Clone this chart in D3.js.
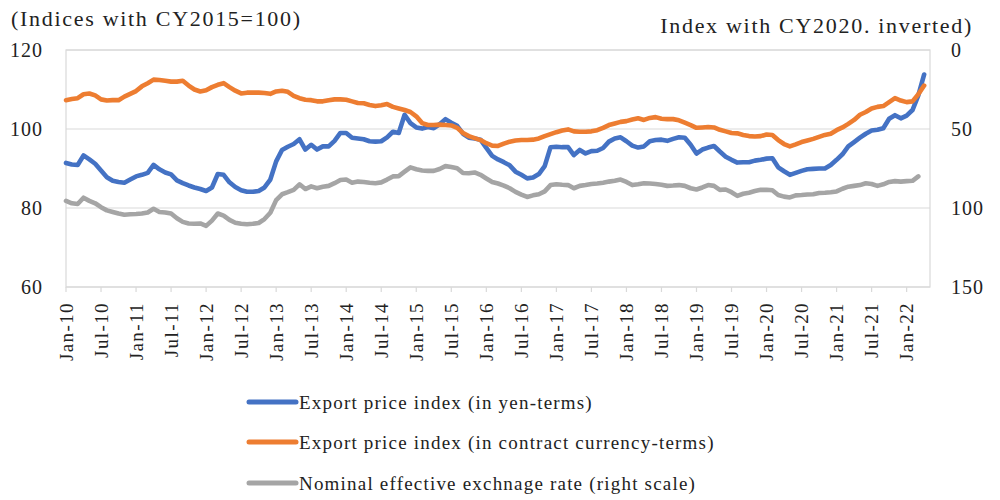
<!DOCTYPE html>
<html><head><meta charset="utf-8">
<script src="https://cdn.jsdelivr.net/npm/d3@7"></script>
<style>
body{margin:0;background:#fff}
text{font-family:"Liberation Serif","Times New Roman",serif;fill:#222}
</style>
</head><body><svg id="c" width="1000" height="500"></svg>
<script>
// Monthly, Jan-2010 onward
const yenTerms=[91.4,91.0,90.9,93.3,92.3,91.2,89.5,87.8,86.9,86.6,86.4,87.2,88.0,88.4,88.9,90.9,89.8,89.0,88.5,87.0,86.3,85.7,85.2,84.8,84.3,85.2,88.6,88.4,86.5,85.3,84.5,84.1,84.1,84.3,85.2,87.2,91.8,94.7,95.5,96.2,97.4,94.8,96.0,94.8,95.6,95.6,97.0,99.0,99.0,97.8,97.6,97.4,96.9,96.8,96.9,97.9,99.3,99.0,103.6,101.5,100.4,100.1,100.5,100.2,101.2,102.5,101.6,100.8,98.8,97.8,97.6,97.3,95.2,93.2,92.3,91.6,90.8,89.2,88.4,87.5,87.7,88.6,90.6,95.4,95.5,95.4,95.4,93.4,94.7,93.8,94.4,94.5,95.2,96.8,97.6,97.9,96.9,95.8,95.3,95.6,96.9,97.2,97.3,97.0,97.5,97.9,97.8,96.0,93.8,94.8,95.3,95.7,94.3,93.0,92.2,91.5,91.6,91.6,92.0,92.2,92.5,92.6,90.3,89.3,88.4,88.9,89.4,89.8,89.9,90.0,90.0,90.9,92.2,93.6,95.6,96.7,97.8,98.8,99.6,99.8,100.2,102.6,103.5,102.7,103.4,104.8,108.5,113.8];
const contractTerms=[107.3,107.6,107.8,108.8,109.0,108.5,107.5,107.2,107.3,107.3,108.2,108.9,109.6,110.8,111.6,112.5,112.4,112.2,112.0,112.0,112.2,111.0,110.0,109.5,109.8,110.6,111.2,111.6,110.6,109.7,109.0,109.2,109.2,109.2,109.1,108.9,109.5,109.7,109.4,108.4,107.8,107.4,107.3,107.0,107.0,107.3,107.5,107.5,107.4,107.0,106.6,106.5,106.1,105.8,106.0,106.3,105.6,105.2,104.8,104.3,103.2,101.5,101.0,101.0,101.1,101.0,100.9,100.3,99.0,98.2,97.7,97.2,96.4,95.8,95.7,96.3,96.8,97.1,97.2,97.2,97.3,97.6,98.2,98.7,99.2,99.6,99.9,99.4,99.3,99.3,99.4,99.7,100.3,101.0,101.4,101.8,102.0,102.4,102.7,102.3,102.8,103.0,102.6,102.5,102.5,102.2,101.6,101.0,100.3,100.4,100.5,100.4,99.8,99.4,99.0,98.9,98.5,98.2,98.1,98.2,98.6,98.5,97.2,96.2,95.6,96.1,96.7,97.1,97.5,98.0,98.5,98.8,99.7,100.4,101.3,102.3,103.6,104.3,105.2,105.6,105.8,106.8,107.8,107.2,106.8,107.0,108.8,111.0];
// Nominal effective exchange rate (CY2020=100), right scale, inverted
const neer=[95.5,97.0,97.5,93.5,95.5,97.0,99.5,101.5,102.5,103.5,104.3,104.0,103.8,103.5,102.8,100.5,102.5,102.8,103.5,106.5,108.8,109.8,110.0,109.8,111.3,108.0,103.5,104.8,107.5,109.3,110.0,110.3,110.0,109.5,107.0,103.0,95.0,91.3,90.0,88.5,85.0,88.0,86.3,87.5,86.5,86.0,84.3,82.3,82.0,84.0,83.3,83.5,84.0,84.3,83.8,82.0,80.0,79.8,77.0,74.3,75.5,76.3,76.5,76.5,75.3,73.5,74.0,74.8,77.8,78.0,77.5,79.0,81.3,83.5,84.5,85.8,87.5,89.8,91.5,93.0,92.0,91.3,89.5,85.5,85.0,85.3,85.5,87.5,86.0,85.5,84.8,84.5,84.0,83.3,82.8,82.0,83.5,85.5,85.0,84.3,84.5,84.8,85.3,86.0,85.8,85.5,86.0,87.5,88.3,87.0,85.5,86.0,88.5,88.3,90.0,92.3,91.0,90.3,89.3,88.5,88.5,88.8,91.8,92.8,93.3,92.0,91.8,91.5,91.3,90.5,90.3,90.0,89.5,87.8,86.5,86.0,85.5,84.3,84.8,86.0,85.0,83.5,83.0,83.3,83.0,82.8,80.0];
const xTickLabels=["Jan-10","Jul-10","Jan-11","Jul-11","Jan-12","Jul-12","Jan-13","Jul-13","Jan-14","Jul-14","Jan-15","Jul-15","Jan-16","Jul-16","Jan-17","Jul-17","Jan-18","Jul-18","Jan-19","Jul-19","Jan-20","Jul-20","Jan-21","Jul-21","Jan-22"];
const leftTicks=[60,80,100,120];
const rightTicks=[0,50,100,150];
const seriesNames=["Export price index (in yen-terms)","Export price index (in contract currency-terms)","Nominal effective exchnage rate (right scale)"];
const colors=["#4472C4","#ED7D31","#A5A5A5"];
const months=d3.timeMonth.range(new Date(2010,0,1),new Date(2022,4,1));

const svg=d3.select("#c");
const L=66,R=930,T=50,B=287;
const x=d3.scaleLinear().domain([0,148]).range([L,R]);
const yL=d3.scaleLinear().domain([60,120]).range([B,T]);
const yR=d3.scaleLinear().domain([150,0]).range([B,T]);

// gridlines
svg.append("g").selectAll("line").data(leftTicks).join("line")
  .attr("x1",L).attr("x2",R).attr("y1",d=>yL(d)).attr("y2",d=>yL(d))
  .attr("stroke","#d9d9d9").attr("stroke-width",1.2);
svg.append("rect").attr("x",L).attr("y",T).attr("width",R-L).attr("height",B-T)
  .attr("fill","none").attr("stroke","#d9d9d9").attr("stroke-width",1.2);

// left axis labels
svg.append("g").selectAll("text").data(leftTicks).join("text")
  .attr("x",43).attr("y",d=>yL(d)).attr("text-anchor","end").attr("dominant-baseline","central")
  .style("font-size","20px").style("letter-spacing","1px").text(d=>d);
// right axis labels
svg.append("g").selectAll("text").data(rightTicks).join("text")
  .attr("x",951).attr("y",d=>yR(d)).attr("text-anchor","start").attr("dominant-baseline","central")
  .style("font-size","20px").style("letter-spacing","1px").text(d=>d);

// x ticks and labels
const tickIdx=xTickLabels.map((_,i)=>i*6);
svg.append("g").selectAll("line").data(tickIdx).join("line")
  .attr("x1",d=>x(d)).attr("x2",d=>x(d)).attr("y1",B).attr("y2",B+5)
  .attr("stroke","#d9d9d9").attr("stroke-width",1.2);
svg.append("g").selectAll("text").data(xTickLabels).join("text")
  .attr("transform",(d,i)=>`translate(${x(i*6)},302) rotate(-90)`)
  .attr("text-anchor","end").attr("dominant-baseline","central")
  .style("font-size","19px").style("letter-spacing","1.4px").text(d=>d);

// titles
svg.append("text").attr("x",11).attr("y",26).style("font-size","22px").style("letter-spacing","1.7px")
  .text("(Indices with CY2015=100)");
svg.append("text").attr("x",973).attr("y",33).attr("text-anchor","end").style("font-size","22px").style("letter-spacing","1.7px")
  .text("Index with CY2020. inverted)");

// series
const lineL=d3.line().x((d,i)=>x(i)).y(d=>yL(d));
const lineR=d3.line().x((d,i)=>x(i)).y(d=>yR(d));
const series=[{v:yenTerms,g:lineL},{v:contractTerms,g:lineL},{v:neer,g:lineR}];
series.forEach((s,k)=>{
  svg.append("path").attr("d",s.g(s.v)).attr("fill","none").attr("stroke",colors[k])
    .attr("stroke-width",4.6).attr("stroke-linejoin","round").attr("stroke-linecap","round");
});

// legend
const legY=[402,442,483];
const lg=svg.append("g");
seriesNames.forEach((n,k)=>{
  lg.append("line").attr("x1",249).attr("x2",296).attr("y1",legY[k]).attr("y2",legY[k])
    .attr("stroke",colors[k]).attr("stroke-width",5).attr("stroke-linecap","round");
  lg.append("text").attr("x",299).attr("y",legY[k]).attr("dominant-baseline","central")
    .style("font-size","19px").style("letter-spacing","1.2px").text(n);
});
</script></body></html>
